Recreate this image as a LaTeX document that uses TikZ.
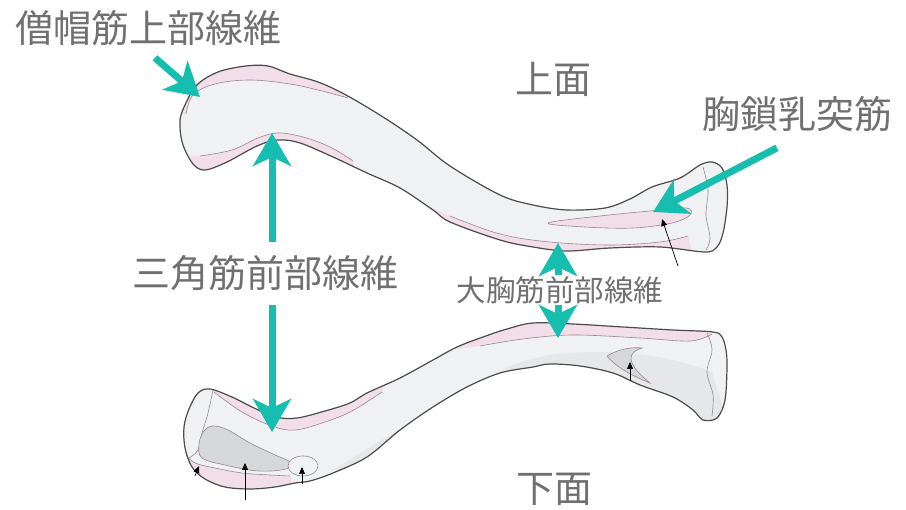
\documentclass[tikz,border=0pt]{standalone}
\usepackage{fontspec}
\setmainfont{Noto Sans CJK JP}
\usepackage{tikz}
\usetikzlibrary{arrows.meta}

\definecolor{tealmark}{RGB}{22,190,176}
\definecolor{labelgray}{RGB}{112,112,112}
\definecolor{bonewhite}{RGB}{240,241,243}
\definecolor{boneedge}{RGB}{75,75,75}
\definecolor{bonepink}{RGB}{241,222,233}
\definecolor{faintedge}{RGB}{150,135,145}
\definecolor{groovegray}{RGB}{214,215,217}
\definecolor{shadegray}{RGB}{230,231,233}

\tikzset{
    lbl/.style={text=labelgray, inner sep=0pt, font=\fontsize{38}{40}\selectfont},
    smalllbl/.style={lbl, font=\fontsize{29.5}{32}\selectfont},
    muscle/.style={draw=tealmark, line width=7pt, -{Stealth[length=33pt, width=38pt, inset=9pt]}},
    boneline/.style={draw=boneedge, line width=1.2pt},
    innerline/.style={draw=faintedge, line width=0.6pt},
    pointer/.style={draw=black, line width=0.7pt, -{Triangle[length=7pt, width=6pt]}}
}

\begin{document}
\begin{tikzpicture}[x=1pt,y=-1pt]
    \useasboundingbox (0,0) rectangle (906,510);

    \def \upperbone {plot[smooth cycle, tension=0.55] coordinates {(182,112) (196,86) (218,72) (246,66) (268,66) (290,74) (318,82) (346,95) (383,117) (417,140) (450,166) (500,195) (533,205) (567,210) (605,208) (630,199) (652,187) (680,178) (700,165) (712,162) (722,168) (727,185) (727,207) (723,233) (717,247) (705,252) (660,247) (610,248) (567,251) (533,247) (500,240) (450,222) (433,210) (400,188) (367,173) (333,157) (300,143) (278,140) (257,146) (227,162) (205,170) (193,164) (183,145) (180,127)}}
    \def \lowerbone {plot[smooth cycle, tension=0.55] coordinates {(198,393) (210,389) (232,397) (252,407) (275,417) (297,418) (325,411) (350,403) (367,393) (400,378) (433,360) (457,347) (483,337) (507,329) (533,323) (573,324) (623,327) (673,330) (713,332) (722,337) (726,350) (727,367) (725,400) (717,418) (703,420) (693,410) (673,397) (640,385) (613,373) (580,366) (550,364) (533,367) (500,373) (467,387) (433,407) (400,430) (367,457) (333,473) (310,481) (295,483) (275,487) (250,489) (225,487) (205,479) (192,467) (185,448) (184,427) (189,409)}}

    \fill[bonewhite] \upperbone;
    \fill[bonewhite] \lowerbone;

    \begin{scope}
        \clip \upperbone;
        \fill[bonepink] plot[smooth, tension=0.6] coordinates {(186,114) (193,95) (215,84) (250,80) (290,84) (322,91) (348,98)} -- (370,70) -- (170,50) -- (165,114) -- cycle;
        \fill[bonepink] plot[smooth, tension=0.6] coordinates {(200,156) (232,150) (258,138) (278,133) (303,137) (330,147) (353,161)} -- (360,200) -- (190,200) -- (190,156) -- cycle;
        \fill[bonepink] plot[smooth, tension=0.6] coordinates {(415,200) (450,216) (500,234) (550,242) (610,245) (660,242) (688,236)} -- (700,280) -- (400,260) -- cycle;
    \end{scope}

    \begin{scope}
        \clip \lowerbone;
        \fill[bonepink] plot[smooth, tension=0.6] coordinates {(214,392) (242,412) (272,426) (295,430) (325,422) (352,411) (382,392)} -- (390,360) -- (200,370) -- cycle;
        \fill[bonepink] plot[smooth, tension=0.6] coordinates {(455,349) (480,346) (523,339) (573,335) (640,338) (690,341) (712,334)} -- (720,300) -- (450,320) -- cycle;
        \fill[bonepink] plot[smooth, tension=0.6] coordinates {(186,455) (195,463) (215,468) (242,473) (270,475) (290,476)} -- (300,510) -- (170,510) -- (170,455) -- cycle;
        \fill[shadegray] plot[smooth, tension=0.6] coordinates {(333,470) (362,452) (395,432) (418,418)} -- (430,440) -- (340,500) -- cycle;
        \fill[shadegray] plot[smooth, tension=0.6] coordinates {(478,384) (510,366) (550,355) (600,352) (645,355) (685,363) (712,372)} -- (730,430) -- (480,420) -- cycle;
    \end{scope}

    \draw[innerline] plot[smooth, tension=0.6] coordinates {(186,114) (193,95) (215,84) (250,80) (290,84) (322,91) (348,98)};
    \draw[innerline] plot[smooth, tension=0.6] coordinates {(200,156) (232,150) (258,138) (278,133) (303,137) (330,147) (353,161)};
    \draw[innerline] plot[smooth, tension=0.6] coordinates {(450,216) (500,234) (550,242) (610,245) (660,242) (688,236)};
    \filldraw[fill=bonepink, innerline] plot[smooth cycle, tension=0.6] coordinates {(548,223) (600,216) (650,211) (686,208) (690,215) (672,223) (633,228) (585,227)};
    \draw[innerline] plot[smooth, tension=0.6] coordinates {(703,167) (708,190) (706,215) (710,238) (706,250)};

    \draw[innerline] plot[smooth, tension=0.6] coordinates {(214,392) (242,412) (272,426) (295,430) (325,422) (352,411) (382,392)};
    \draw[innerline] plot[smooth, tension=0.6] coordinates {(480,346) (523,339) (573,335) (640,338) (690,341) (712,334)};
    \draw[innerline] plot[smooth, tension=0.6] coordinates {(186,455) (195,463) (215,468) (242,473) (270,475) (290,476)};
    \draw[innerline] plot[smooth, tension=0.6] coordinates {(213,390) (208,413) (202,433) (198,450) (189,458)};
    \filldraw[fill=groovegray, innerline] plot[smooth cycle, tension=0.6] coordinates {(204,431) (213,426) (228,430) (250,443) (275,455) (290,462) (286,469) (258,471) (225,465) (202,458) (199,444)};
    \filldraw[fill=bonewhite, innerline] (303,466) ellipse [x radius=15, y radius=10];
    \filldraw[fill=groovegray, innerline] (607,356) .. controls (620,348) and (635,347) .. (642,348) .. controls (628,352) and (624,362) .. (650,383) .. controls (630,375) and (615,366) .. (607,356) -- cycle;
    \draw[innerline] plot[smooth, tension=0.6] coordinates {(707,333) (712,350) (707,372) (713,395) (712,416)};

    \draw[boneline] \upperbone;
    \draw[boneline] \lowerbone;

    \draw[pointer] (678,266) -- (662,219);
    \draw[pointer] (245,500) -- (245,463);
    \draw[pointer] (302,484) -- (302,467);
    \draw[pointer] (630,381) -- (630,362);
    \draw[pointer] (195,476) -- (199,466);

    \node[lbl] (trap) at (149,28) {僧帽筋上部線維};
    \node[lbl] (upper) at (553,79) {上面};
    \node[lbl] (scm) at (797,114) {胸鎖乳突筋};
    \node[lbl] (delt) at (265,273) {三角筋前部線維};
    \node[smalllbl] (pec) at (560,290) {大胸筋前部線維};
    \node[lbl] (lower) at (554,489) {下面};

    \coordinate (trapTip) at (200,97);
    \coordinate (scmTip) at (653,212);
    \coordinate (deltUp) at (272,133);
    \coordinate (deltDown) at (272,432);
    \coordinate (pecUp) at (558,243);
    \coordinate (pecDown) at (558,338);

    \draw[muscle] ([xshift=6pt,yshift=-12pt]trap.south) -- (trapTip);
    \draw[muscle] ([xshift=-20pt,yshift=-16pt]scm.south) -- (scmTip);
    \draw[muscle, shorten <=13pt] (deltUp |- delt.north) -- (deltUp);
    \draw[muscle, shorten <=14pt] (deltDown |- delt.south) -- (deltDown);
    \draw[muscle, shorten <=1pt] (pecUp |- pec.north) -- (pecUp);
    \draw[muscle, shorten <=1pt] (pecDown |- pec.south) -- (pecDown);
\end{tikzpicture}
\end{document}
